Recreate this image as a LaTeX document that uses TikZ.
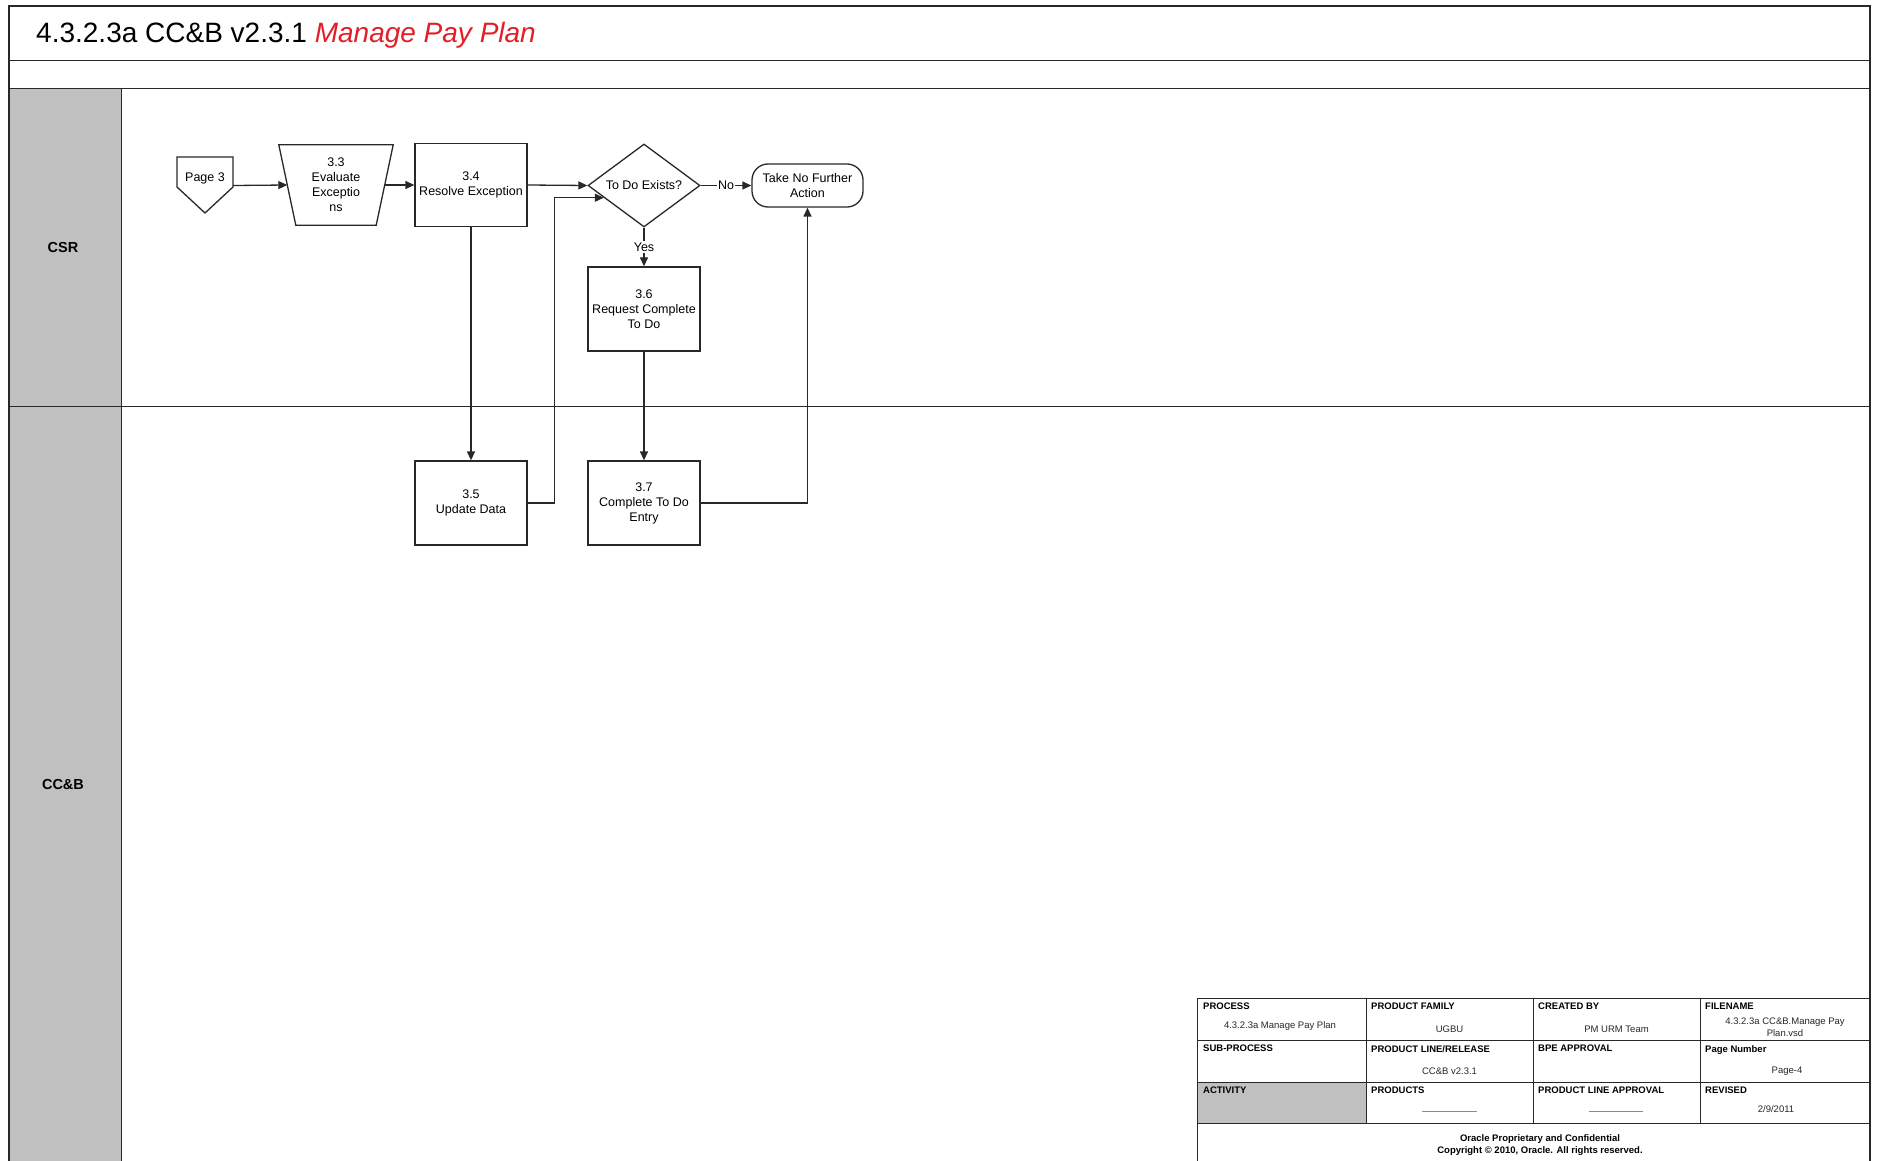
\documentclass[tikz,border=0pt]{standalone}
\usepackage{fontspec}
\setmainfont{Liberation Sans}
\usetikzlibrary{arrows.meta,shapes.geometric,calc}
\definecolor{titlered}{RGB}{228,30,38}
\definecolor{lanegray}{RGB}{192,192,192}
\definecolor{inkc}{RGB}{40,40,40}
\begin{document}
\begin{tikzpicture}[x=1pt,y=-1pt,
  ln/.style={line width=1.3pt, draw=inkc},
  arr/.style={ln,-{Triangle[length=9pt,width=8pt]}},
  nfont/.style={font=\fontsize{12.5}{15}\selectfont},
  box/.style={ln, rectangle, fill=white, minimum width=112pt, minimum height=83pt, inner sep=1pt, align=center, nfont},
  dia/.style={ln, diamond, fill=white, aspect=1.4, minimum width=112pt, minimum height=83pt, inner sep=0pt, align=center, nfont},
  term/.style={ln, rectangle, rounded corners=16pt, fill=white, minimum width=111pt, minimum height=43pt, inner sep=1pt, align=center, nfont},
  plain/.style={inner sep=0pt, align=center, nfont},
  frame/.style={line width=1pt, draw=inkc},
  tbl/.style={line width=0.9pt, draw=inkc},
  tlab/.style={anchor=north west, inner sep=0pt, font=\fontsize{9.5}{11}\selectfont\bfseries},
  tval/.style={inner sep=0pt, align=center, text=inkc, font=\fontsize{9.5}{11.5}\selectfont},
  lane/.style={font=\fontsize{14.5}{16}\selectfont\bfseries}
]
\useasboundingbox (0,0) rectangle (1877,1161);
\fill[white] (0,0) rectangle (1877,1161);

% frame and lanes
\fill[lanegray] (9,89) rectangle (121,1161);
\draw[frame] (9,61) -- (1870,61);
\draw[frame] (9,89) -- (1870,89);
\draw[frame] (121,89) -- (121,1161);
\draw[frame] (9,406) -- (1870,406);
\draw[line width=2.8pt, draw=inkc] (9,1161) -- (9,6) -- (1870,6) -- (1870,1161);

\node[anchor=west, inner sep=0pt, font=\fontsize{28}{32}\selectfont] (title) at (36,35)
  {4.3.2.3a CC\&B v2.3.1 {\color{titlered}\itshape Manage Pay Plan}};
\node[lane] (lcsr) at (63,248) {CSR};
\node[lane] (lccb) at (63,785) {CC\&B};

% Page 3 off-page connector
\draw[ln] (177,157) -- (233,157) -- (233,187) -- (205,213) -- (177,187) -- cycle;
\node[plain] (p3) at (205,178) {Page 3};
\coordinate (p3r) at (233,185.5);

% 3.3 trapezoid
\node[plain, minimum width=114pt, minimum height=80pt] (n33) at (336,185) {3.3\\Evaluate\\Exceptio\\ns};
\draw[ln] (n33.north west) -- (n33.north east) -- ($(n33.south east)+(-17,0)$) -- ($(n33.south west)+(17,0)$) -- cycle;
\coordinate (t33l) at ($(n33.west)+(8.5,0)$);
\coordinate (t33r) at ($(n33.east)+(-8.5,0)$);

\node[box] (n34) at (471,185) {3.4\\Resolve Exception};
\node[dia] (dia) at (644,185.5) {To Do Exists?};
\node[term] (term) at (807.5,185.5) {Take No Further\\Action};
\node[box, minimum height=84pt] (n36) at (644,309) {3.6\\Request Complete\\To Do};
\node[box, minimum height=84pt] (n35) at (471,503) {3.5\\Update Data};
\node[box, minimum height=84pt] (n37) at (644,503) {3.7\\Complete To Do\\Entry};
\coordinate (dtgt) at ($(dia.west)!0.29!(dia.south)$);

% connectors
\draw[arr] (p3r) -- (t33l);
\draw[arr] (t33r) -- (n34.west);
\draw[arr] (n34.east) -- (dia.west);
\draw[arr] (dia.east) -- node[fill=white, inner sep=1pt, nfont] (lno) {No} (term.west);
\draw[arr] (dia.south) -- node[fill=white, inner sep=1.5pt, nfont] (lyes) {Yes} (n36.north);
\draw[arr] (n34.south) -- (n35.north);
\draw[arr] (n35.east) -- ++(27,0) |- (dtgt);
\draw[arr] (n36.south) -- (n37.north);
\draw[arr] (n37.east) -| (term.south);

% title block
\fill[lanegray] (1197,1082) rectangle (1366,1123);
\draw[tbl] (1197,1161) -- (1197,998) -- (1870,998);
\foreach \yy in {1040,1082,1123} \draw[tbl] (1197,\yy) -- (1870,\yy);
\foreach \xx in {1366,1533,1700} \draw[tbl] (\xx,998) -- (\xx,1123);

\node[tlab] (h1) at (1203,1003) {PROCESS};
\node[tlab] (h2) at (1371,1003) {PRODUCT FAMILY};
\node[tlab] (h3) at (1538,1003) {CREATED BY};
\node[tlab] (h4) at (1705,1003) {FILENAME};
\node[tlab] (h5) at (1203,1045) {SUB-PROCESS};
\node[tlab] (h6) at (1371,1045) {PRODUCT LINE/RELEASE};
\node[tlab] (h7) at (1538,1045) {BPE APPROVAL};
\node[tlab] (h8) at (1705,1045) {Page Number};
\node[tlab] (h9) at (1203,1087) {ACTIVITY};
\node[tlab] (h10) at (1371,1087) {PRODUCTS};
\node[tlab] (h11) at (1538,1087) {PRODUCT LINE APPROVAL};
\node[tlab] (h12) at (1705,1087) {REVISED};

\node[tval] (v1) at (1280,1026) {4.3.2.3a Manage Pay Plan};
\node[tval] (v2) at (1449.5,1029) {UGBU};
\node[tval] (v3) at (1616.5,1029) {PM URM Team};
\node[tval] (v4) at (1785,1027) {4.3.2.3a CC\&B.Manage Pay\\Plan.vsd};
\node[tval] (v6) at (1449.5,1071) {CC\&B v2.3.1};
\node[tval] (v8) at (1787,1071) {Page-4};
\node[tval] (v12) at (1776,1109) {2/9/2011};
\draw[line width=0.6pt, draw=black!45] (1422,1111) -- (1477,1111);
\draw[line width=0.6pt, draw=black!45] (1589,1111) -- (1643,1111);
\node[inner sep=0pt, align=center, font=\fontsize{9.5}{12}\selectfont\bfseries] (foot) at (1540,1145)
  {Oracle Proprietary and Confidential\\Copyright © 2010, Oracle. All rights reserved.};
\end{tikzpicture}
\end{document}
